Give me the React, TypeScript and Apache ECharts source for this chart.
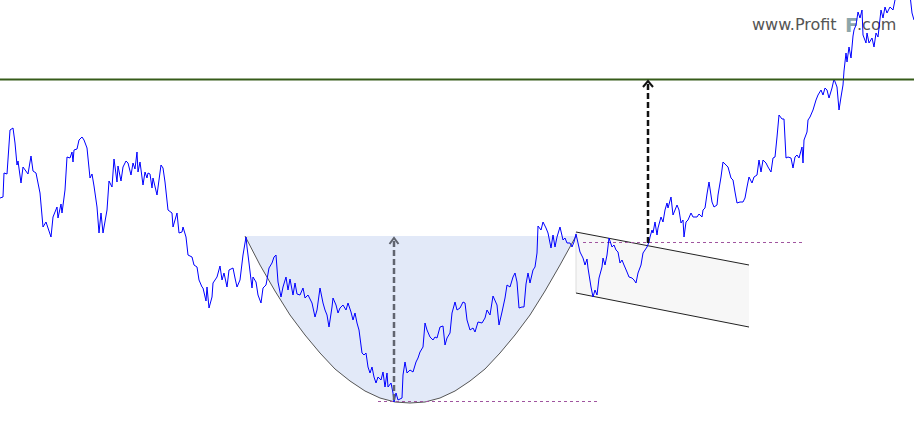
import React, { useEffect, useRef } from "react";
import * as echarts from "echarts";

// Price path: [time index, price]
const pricePoints: [number, number][] = [
  [0,227],[3,228],[4,252],[7,251],[10,295],[13,297],[15,282],[17,260],[18,264],[21,242],[23,258],[28,251],[31,269],[33,254],[36,252],[40,232],[43,198],[46,203],[48,197],[51,188],[53,208],[57,218],[58,207],[61,221],[62,212],[65,235],[67,268],[70,267],[72,273],[73,263],[74,275],[77,276],[79,285],[82,288],[84,285],[87,277],[88,267],[90,247],[92,251],[94,239],[97,218],[99,192],[101,212],[103,192],[107,215],[109,244],[112,238],[114,266],[117,243],[118,259],[121,244],[123,258],[126,264],[128,262],[131,250],[133,262],[135,256],[137,273],[138,253],[140,263],[143,240],[145,253],[147,247],[148,252],[150,251],[152,237],[153,247],[157,230],
  [161,260],[163,257],[165,243],[168,215],[172,212],[173,198],[177,212],[179,192],[182,193],[183,198],[186,188],[188,170],[192,168],[194,160],[197,158],[199,145],[202,138],[203,137],[206,124],[207,138],[209,117],[212,128],[213,142],[217,148],[220,159],[222,145],[224,152],[227,138],[229,155],[233,157],[235,147],[237,138],[240,145],[243,170],[246,188],
  [247,178],[249,162],[252,137],[253,148],[256,143],[258,130],[261,122],[263,137],[266,140],[269,157],[272,162],[274,168],[276,170],[278,143],[281,128],[283,138],[286,148],[288,135],[290,146],[293,130],[295,142],[297,131],[300,130],[303,137],[305,127],[308,130],[312,122],[315,108],[317,115],[320,137],[323,122],[325,115],[327,110],[329,98],[332,118],[333,127],[336,120],[338,112],[340,117],[343,120],[346,115],[348,122],[351,113],[353,105],[355,112],[357,102],[359,95],[362,72],[364,70],[366,72],[368,58],[370,52],[372,58],[374,48],[376,42],[378,48],[381,45],[383,53],[385,38],[387,52],[388,38],[391,42],[393,32],[394,23],[396,32],[398,25],[402,27],
  [403,50],[405,63],[407,52],[410,55],[413,53],[416,63],[418,67],[420,73],[423,78],[425,102],[427,95],[430,88],[433,85],[435,88],[437,87],[440,98],[443,99],[445,80],[447,87],[450,92],[452,112],[455,123],[457,115],[460,117],[463,123],[465,122],[467,105],[470,95],[473,97],[475,93],[478,103],[482,102],[485,107],[487,115],[490,110],[493,129],[497,120],[499,100],[502,113],[505,127],[507,140],[510,138],[513,148],[515,152],[517,143],[519,117],[522,118],[524,118],[526,141],[528,152],[530,142],[533,155],[535,158],[537,172],[538,199],[541,195],[543,203],[546,197],[548,192],[551,177],[553,190],[555,178],[557,188],[560,198],[563,185],[565,187],[567,182],[570,182],[572,178],[574,183],[576,191],[578,182],
  [580,173],[583,167],[585,160],[587,166],[588,157],[591,138],[593,128],[595,135],[597,130],[599,147],[602,158],[603,167],[605,160],[607,170],[609,187],[612,178],[614,180],[616,175],[618,173],[620,162],[622,165],[624,160],[627,153],[629,148],[632,147],[634,145],[636,142],[638,152],[641,160],[643,172],[645,175],[647,178],[649,183],
  [650,188],[652,195],[653,192],[655,203],[657,190],[658,197],[661,208],[663,203],[665,215],[667,222],[668,217],[671,228],[673,210],[675,215],[677,220],[679,215],[681,202],[683,205],[684,188],[686,203],[688,205],[691,212],[693,208],[695,208],[697,208],[699,211],[702,208],[703,215],[705,217],[707,231],[709,243],[712,223],[714,218],[717,220],[718,230],[721,248],[723,263],[726,260],[728,258],[731,247],[733,245],[735,233],[737,222],[740,223],[743,223],[745,227],[747,238],[749,248],[752,242],[754,248],[757,250],[759,265],[761,253],[763,265],[766,262],[768,258],[771,253],[773,267],[775,268],[777,288],[779,310],[782,306],[784,306],[786,267],[788,268],[791,267],[793,257],[795,268],[797,270],[799,267],[802,278],[803,262],[804,285],[807,293],
  [808,305],[810,308],[813,315],[816,325],[818,330],[821,335],[823,330],[825,337],[827,335],[829,327],[832,337],[834,346],[837,338],[839,315],[841,328],[843,340],[844,354],[846,372],[847,363],[849,378],[851,367],[853,389],[854,395],[856,400],[858,413],[860,407],[862,415],[863,390],[866,382],[867,392],[869,382],[872,387],[874,378],[876,392],[878,388],[881,415],[883,407],[885,418],[887,412],[890,418],[893,415],[895,425],[898,435],[905,440],[910,430],[912,412],[914,405]
];

// Cup outline
const cupX = [245,260,275,290,305,320,335,350,365,380,395,410,425,440,455,470,485,500,515,530,545,560,576];
const cupV = [189,160,134,110,90,72,56,44,34,27,23,22,23,27,34,44,56,72,90,110,134,160,189];

// Handle channel
const channelX = [576, 749];
const channelTopV = [193, 160];
const channelBottomV = [132, 98];

// Levels
const resistanceLevel = 345.5;
const cupLowX = [378, 597];
const cupLowLevel = 23.5;
const breakoutX = [583, 802];
const breakoutLevel = 182.5;

// Arrows: [x, from, to]
const arrows: [number, number, number][] = [
  [394, 25, 188],
  [648, 182, 345],
];

const watermarkParts = ["www.Profit", "F", ".com"];

export default function App() {
  const ref = useRef<HTMLDivElement>(null);
  useEffect(() => {
    if (!ref.current) return;
    const chart = echarts.init(ref.current, null, { renderer: "svg" });
    const option: any = {
      animation: false,
      grid: { left: 0, right: 0, top: 0, bottom: 0 },
      xAxis: { type: "value", min: 0, max: 914, show: false },
      yAxis: { type: "value", min: 0, max: 425, show: false },
      graphic: [
        {
          type: "text", x: 752, y: 24.5, z: 0,
          style: { text: watermarkParts[0], fill: "#555555", fontSize: 16, fontFamily: "DejaVu Sans", verticalAlign: "middle", align: "left" },
        },
        {
          type: "text", x: 845, y: 24.5, z: 0,
          style: { text: watermarkParts[1], fill: "#8ca6aa", fontSize: 20, fontWeight: "bold", fontFamily: "DejaVu Sans", verticalAlign: "middle", align: "left" },
        },
        {
          type: "text", x: 857, y: 24.5, z: 0,
          style: { text: watermarkParts[2], fill: "#555555", fontSize: 16, fontFamily: "DejaVu Sans", verticalAlign: "middle", align: "left" },
        },
      ],
      series: [
        {
          type: "custom",
          z: 1,
          silent: true,
          data: [[cupX[0], cupV[0]]],
          encode: { x: 0, y: 1 },
          renderItem: (_p: any, api: any) => {
            const pts = cupX.map((x, i) => api.coord([x, cupV[i]]));
            return { type: "polygon", shape: { points: pts }, style: { fill: "#e2e9f8", stroke: null } };
          },
        },
        {
          type: "custom",
          z: 1,
          silent: true,
          data: [[channelX[0], channelTopV[0]]],
          encode: { x: 0, y: 1 },
          renderItem: (_p: any, api: any) => {
            const t0 = api.coord([channelX[0], channelTopV[0]]);
            const t1 = api.coord([channelX[1], channelTopV[1]]);
            const b0 = api.coord([channelX[0], channelBottomV[0]]);
            const b1 = api.coord([channelX[1], channelBottomV[1]]);
            return {
              type: "group",
              children: [
                { type: "polygon", shape: { points: [t0, t1, b1, b0] }, style: { fill: "#f7f7f7", stroke: null } },
                { type: "line", shape: { x1: t0[0], y1: t0[1], x2: b0[0], y2: b0[1] }, style: { stroke: "#dddddd", lineWidth: 1 } },
                { type: "line", shape: { x1: t0[0], y1: t0[1], x2: t1[0], y2: t1[1] }, style: { stroke: "#222222", lineWidth: 1 } },
                { type: "line", shape: { x1: b0[0], y1: b0[1], x2: b1[0], y2: b1[1] }, style: { stroke: "#222222", lineWidth: 1 } },
              ],
            };
          },
        },
        {
          type: "line",
          z: 2,
          silent: true,
          symbol: "none",
          data: cupX.map((x, i) => [x, cupV[i]]),
          lineStyle: { color: "#555555", width: 1 },
        },
        {
          type: "line",
          z: 2,
          silent: true,
          symbol: "none",
          data: [[cupLowX[0], cupLowLevel], [cupLowX[1], cupLowLevel]],
          lineStyle: { color: "#a0559f", width: 1, type: [3, 3] },
        },
        {
          type: "line",
          z: 2,
          silent: true,
          symbol: "none",
          data: [[breakoutX[0], breakoutLevel], [breakoutX[1], breakoutLevel]],
          lineStyle: { color: "#a0559f", width: 1, type: [3, 3] },
        },
        {
          type: "line",
          z: 5,
          silent: true,
          symbol: "none",
          data: pricePoints,
          lineStyle: { color: "#0000ff", width: 1 },
        },
        {
          type: "line",
          z: 6,
          silent: true,
          symbol: "none",
          data: [[0, resistanceLevel], [914, resistanceLevel]],
          lineStyle: { color: "#365c1a", width: 2 },
        },
        {
          type: "custom",
          z: 7,
          silent: true,
          data: arrows,
          encode: { x: 0, y: 2 },
          renderItem: (params: any, api: any) => {
            const x = api.value(0);
            const p0 = api.coord([x, api.value(1)]);
            const p1 = api.coord([x, api.value(2)]);
            const color = params.dataIndex === 0 ? "#60646f" : "#111111";
            const w = params.dataIndex === 0 ? 4.5 : 5;
            return {
              type: "group",
              children: [
                { type: "line", shape: { x1: p0[0], y1: p0[1], x2: p1[0], y2: p1[1] + 1 }, style: { stroke: color, lineWidth: 2.5, lineDash: [6, 3] } },
                { type: "polyline", shape: { points: [[p1[0] - w, p1[1] + 7], [p1[0], p1[1] + 1], [p1[0] + w, p1[1] + 7]] }, style: { stroke: color, lineWidth: 2, fill: null } },
              ],
            };
          },
        },
      ],
    };
    chart.setOption(option);
    return () => chart.dispose();
  }, []);
  return <div ref={ref} style={{ position: "fixed", left: 0, top: 0, width: 914, height: 425, background: "#ffffff" }} />;
}
